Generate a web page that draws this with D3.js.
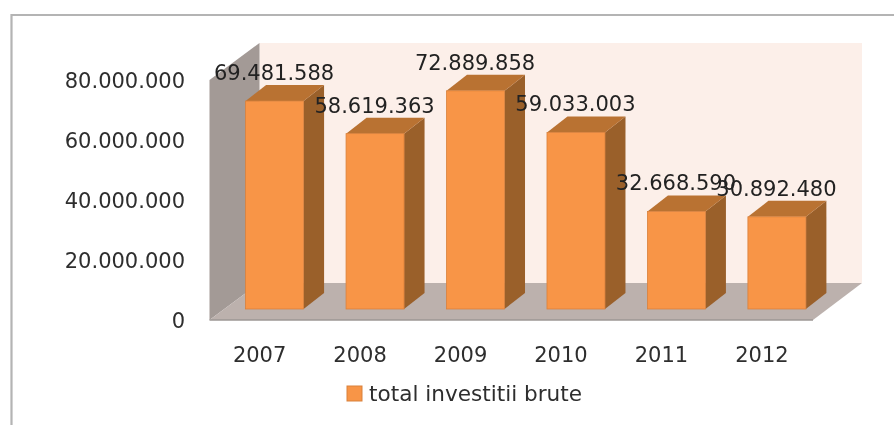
<!DOCTYPE html>
<html><head><meta charset="utf-8">
<script src="https://cdnjs.cloudflare.com/ajax/libs/d3/7.8.5/d3.min.js"></script>
<style>html,body{margin:0;padding:0;background:#fff}svg{display:block}
text{font-family:"DejaVu Sans",sans-serif;fill:#2e2e2e}</style></head>
<body><svg id="c" width="894" height="425"></svg>
<script>
const categories=["2007","2008","2009","2010","2011","2012"];
const values=[69481588,58619363,72889858,59033003,32668590,30892480];
const yTicks=[0,20000000,40000000,60000000,80000000];
const seriesName="total investitii brute";

const svg=d3.select("#c");
const defs=svg.append("defs");
defs.append("filter").attr("id","soft").attr("x","-2%").attr("y","-2%").attr("width","104%").attr("height","104%")
  .append("feGaussianBlur").attr("stdDeviation",0.55);
const root=svg.append("g").attr("filter","url(#soft)");

const plotLeft=209.5,plotRight=813,plotBase=320,plotTop=80;
const wallDx=50,wallDy=-37,barDx=20.5,barDy=-16,barOffX=15,barOffY=-11;
const fs=21;
const x=d3.scaleBand().domain(categories).range([plotLeft,plotRight-1]).paddingInner(0.4227).paddingOuter(0.21);
const y=d3.scaleLinear().domain([0,80000000]).range([plotBase,plotTop]);
const fmt=d3.formatLocale({decimal:",",thousands:".",grouping:[3],currency:["",""]}).format(",d");
const poly=(pts,fill)=>root.append("polygon").attr("points",pts.map(p=>p.join(",")).join(" ")).attr("fill",fill);

// frame
root.append("path").attr("d","M11.5,425V15H894").attr("fill","none").attr("stroke","#b4b4b4").attr("stroke-width",2.2);

// 3D walls
poly([[plotLeft+wallDx,plotTop+wallDy],[plotRight+wallDx-1,plotTop+wallDy],[plotRight+wallDx-1,plotBase+wallDy],[plotLeft+wallDx,plotBase+wallDy]],"#fcefe9");
poly([[plotLeft,plotTop],[plotLeft+wallDx,plotTop+wallDy],[plotLeft+wallDx,plotBase+wallDy],[plotLeft,plotBase]],"#a39a96");
poly([[plotLeft,plotBase],[plotLeft+wallDx,plotBase+wallDy],[plotRight+wallDx-1,plotBase+wallDy],[plotRight,plotBase]],"#bcb1ad");
root.append("line").attr("x1",plotLeft).attr("x2",plotRight).attr("y1",plotBase).attr("y2",plotBase).attr("stroke","#9c9794").attr("stroke-width",1.6);

// bars
const rows=categories.map((c,i)=>({c,v:values[i]}));
const g=root.selectAll("g.bar").data(rows).join("g").attr("class","bar");
const bx=d=>x(d.c)+barOffX, by=d=>y(d.v)+barOffY+0.5, bb=plotBase+barOffY, bw=x.bandwidth();
g.append("polygon").attr("fill","#9a602c").attr("points",d=>[[bx(d)+bw,by(d)],[bx(d)+bw+barDx,by(d)+barDy],[bx(d)+bw+barDx,bb+barDy],[bx(d)+bw,bb]].join(" "));
g.append("polygon").attr("fill","#b97232").attr("points",d=>[[bx(d),by(d)],[bx(d)+barDx,by(d)+barDy],[bx(d)+bw+barDx,by(d)+barDy],[bx(d)+bw,by(d)]].join(" "));
g.append("rect").attr("x",bx).attr("y",by).attr("width",bw).attr("height",d=>bb-by(d)).attr("fill","#f89546").attr("stroke","#d9813c").attr("stroke-width",0.8);

// axes
const ya=root.append("g").attr("transform","translate(185,0)").call(d3.axisLeft(y).tickValues(yTicks).tickSize(0).tickPadding(0).tickFormat(fmt));
const xa=root.append("g").attr("transform",`translate(0,${plotBase+34})`).call(d3.axisBottom(x).tickSize(0).tickPadding(0));
ya.select(".domain").remove();xa.select(".domain").remove();
ya.attr("font-family",null).attr("font-size",null);xa.attr("font-family",null).attr("font-size",null);
ya.selectAll("text").attr("font-size",fs).attr("dy","0.36em");
xa.selectAll("text").attr("font-size",fs).attr("dy","0.36em");

// value labels
g.append("text").attr("x",d=>bx(d)+bw/2-0.5).attr("y",d=>by(d)-21).attr("text-anchor","middle").attr("font-size",fs).style("fill","#222").text(d=>fmt(d.v));

// legend
root.append("rect").attr("x",347).attr("y",386).attr("width",15).attr("height",15).attr("fill","#f89546").attr("stroke","#d9813c");
root.append("text").attr("x",369).attr("y",401).attr("font-size",21.6).text(seriesName);
</script></body></html>
